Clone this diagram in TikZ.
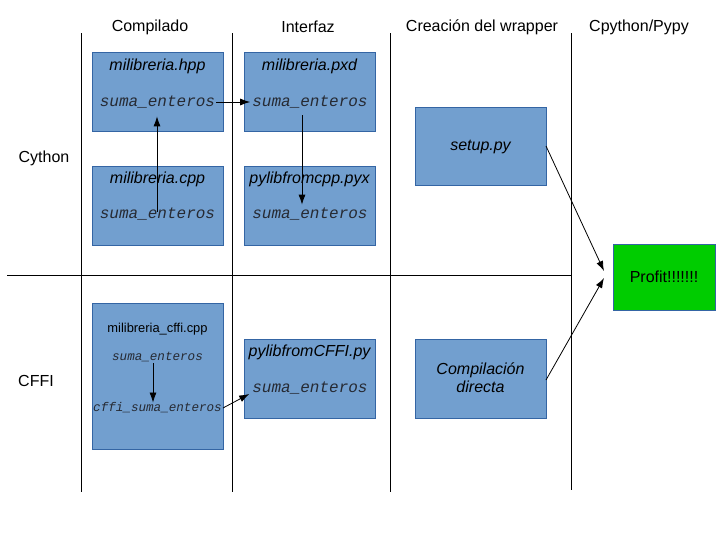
\documentclass[tikz,border=0pt]{standalone}
\usepackage{fontspec}
\setmainfont{Liberation Sans}
\setmonofont{Liberation Mono}
\usetikzlibrary{arrows.meta}
\definecolor{boxfill}{HTML}{729FCF}
\definecolor{boxline}{HTML}{3465A4}
\definecolor{profitfill}{HTML}{00CC00}
\definecolor{monotext}{HTML}{262A33}
\tikzset{
  sep/.style={line width=1pt, black},
  filebox/.style={draw=boxline, fill=boxfill, line width=0.8pt},
  ttl/.style={font=\fontsize{16}{19}\selectfont\itshape, inner sep=1pt},
  fn/.style={font=\fontsize{16}{19}\selectfont\ttfamily\itshape, text=monotext, inner sep=1pt},
  fnsmall/.style={font=\fontsize{12.6}{15}\selectfont\ttfamily\itshape, text=monotext, inner sep=1pt},
  hdr/.style={font=\fontsize{16}{19}\selectfont, inner sep=1pt},
  arr/.style={-{Latex[length=10pt,width=7pt]}, line width=0.8pt, black},
}
\begin{document}
\begin{tikzpicture}[x=1pt,y=-1pt]
\useasboundingbox (0,0) rectangle (723,542);
% grid lines
\draw[sep] (81,33) -- (81,492);
\draw[sep] (232,33) -- (232,492);
\draw[sep] (390,33) -- (390,492);
\draw[sep] (571,33) -- (571,490);
\draw[sep] (7,275) -- (571,275);
% headers
\node[hdr] (h1) at (150,27) {Compilado};
\node[hdr] (h2) at (308,27) {Interfaz};
\node[hdr] (h3) at (482,27) {Creación del wrapper};
\node[hdr] (h4) at (639,27) {Cpython/Pypy};
\node[hdr] (r1) at (44,158) {Cython};
\node[hdr] (r2) at (36,381) {CFFI};
% boxes
\draw[filebox] (92,52) rectangle (223,131);
\node[ttl] (hppT) at (157.5,66) {milibreria.hpp};
\node[fn] (hppS) at (157.5,102) {suma\_enteros};
\draw[filebox] (92,166) rectangle (223,245);
\node[ttl] (cppT) at (157.5,179) {milibreria.cpp};
\node[fn] (cppS) at (157.5,214) {suma\_enteros};
\draw[filebox] (244,52) rectangle (375,131);
\node[ttl] (pxdT) at (309.5,66) {milibreria.pxd};
\node[fn] (pxdS) at (310,102) {suma\_enteros};
\draw[filebox] (244,166) rectangle (375,245);
\node[ttl] (pyxT) at (309.5,179) {pylibfromcpp.pyx};
\node[fn] (pyxS) at (310,214) {suma\_enteros};
\draw[filebox] (415,107) rectangle (546,185);
\node[ttl] (setupT) at (480.5,147) {setup.py};
\coordinate (setupE) at (546,146);
\draw[filebox] (415,339) rectangle (546,418);
\node[ttl, align=center, font=\fontsize{16}{18}\selectfont\itshape] (comp) at (480.5,378) {Compilación\\directa};
\coordinate (compE) at (546,380);
\draw[filebox, fill=profitfill] (613,244) rectangle (715,310);
\node[hdr] (profit) at (664,277) {Profit!!!!!!!};
\coordinate (profW) at (613,277);
\draw[filebox] (92,303) rectangle (223,449);
\node[hdr, font=\fontsize{12.9}{15}\selectfont] (cffiT) at (157.5,329) {milibreria\_cffi.cpp};
\node[fnsmall] (cffiS) at (157.5,357) {suma\_enteros};
\node[fnsmall] (cffiC) at (157.5,408) {cffi\_suma\_enteros};
\draw[filebox] (244,339) rectangle (375,418);
\node[ttl] (pcT) at (309.5,352) {pylibfromCFFI.py};
\node[fn] (pcS) at (310,388) {suma\_enteros};
% arrows
\draw[arr] (hppS.east) -- ([xshift=-1pt]pxdS.west);
\draw[arr] ([xshift=-0.5pt,yshift=-5pt]cppS.north) -- ([xshift=-0.5pt,yshift=-7pt]hppS.south);
\draw[arr] ([xshift=-8pt,yshift=-6pt]pxdS.south) -- ([xshift=-8pt,yshift=2pt]pyxS.north);
\draw[arr] (setupE) -- ([xshift=-9pt,yshift=6pt]profW);
\draw[arr] (compE) -- ([xshift=-9pt,yshift=-1pt]profW);
\draw[arr] ([xshift=-4.5pt]cffiS.south) -- ([xshift=-4.5pt,yshift=-1pt]cffiS.south |- cffiC.north);
\draw[arr] (cffiC.east) -- ([yshift=-6pt,xshift=-2pt]pcS.west);
\end{tikzpicture}
\end{document}
